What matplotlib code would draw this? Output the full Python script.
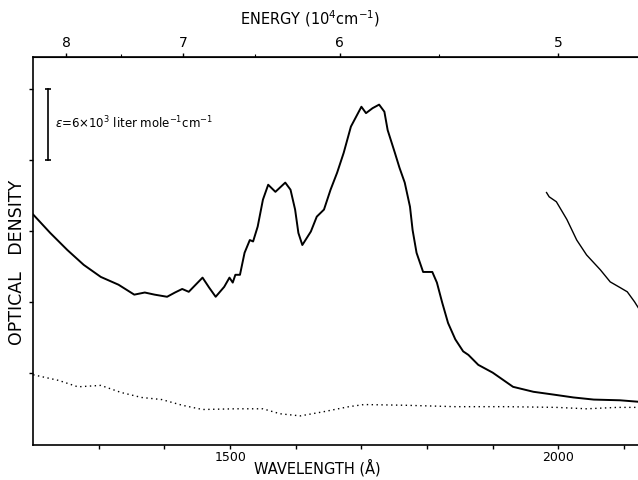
import numpy as np
import matplotlib
matplotlib.use("Agg")
import matplotlib.pyplot as plt

# main absorption curve (wavelength in A, optical density in tick units)
wl_main = [1200, 1226, 1252, 1277, 1303, 1330, 1354, 1370, 1385, 1404, 1416, 1427,
           1437, 1458, 1468, 1478, 1491, 1499, 1504, 1508, 1515, 1522, 1530, 1535,
           1542, 1550, 1558, 1569, 1584, 1592, 1599, 1604, 1610, 1623, 1632, 1643,
           1653, 1663, 1673, 1684, 1692, 1700, 1707, 1717, 1727, 1735, 1740, 1751,
           1758, 1766, 1774, 1778, 1784, 1794, 1808, 1815, 1823, 1832, 1843, 1855,
           1863, 1878, 1900, 1931, 1962, 1993, 2023, 2054, 2094, 2121, 2133]
od_main = [3.23, 2.97, 2.73, 2.52, 2.35, 2.24, 2.10, 2.13, 2.10, 2.07, 2.13, 2.18,
           2.14, 2.34, 2.20, 2.07, 2.21, 2.34, 2.27, 2.38, 2.38, 2.69, 2.87, 2.85,
           3.06, 3.44, 3.65, 3.55, 3.68, 3.58, 3.30, 2.97, 2.80, 2.99, 3.20, 3.30,
           3.58, 3.82, 4.10, 4.47, 4.61, 4.75, 4.66, 4.73, 4.78, 4.68, 4.42, 4.10,
           3.89, 3.68, 3.34, 3.01, 2.69, 2.42, 2.42, 2.27, 1.99, 1.70, 1.47, 1.30,
           1.25, 1.11, 1.00, 0.80, 0.73, 0.69, 0.65, 0.62, 0.61, 0.59, 0.56]

# second (higher concentration) curve at long wavelength
wl_right = [1982, 1986, 1997, 2013, 2028, 2043, 2064, 2079, 2094, 2105, 2116, 2131]
od_right = [3.54, 3.48, 3.41, 3.16, 2.87, 2.66, 2.45, 2.28, 2.20, 2.14, 2.00, 1.78]

# baseline (dotted)
wl_base = [1200, 1239, 1268, 1303, 1334, 1365, 1396, 1427, 1458, 1508, 1550, 1576,
           1607, 1643, 1681, 1704, 1766, 1843, 1920, 1997, 2043, 2090, 2133]
od_base = [0.97, 0.89, 0.80, 0.82, 0.72, 0.65, 0.62, 0.54, 0.48, 0.49, 0.49, 0.42,
           0.39, 0.45, 0.52, 0.55, 0.54, 0.52, 0.52, 0.51, 0.49, 0.51, 0.51]

wl_ticks = [1300, 1400, 1500, 1600, 1700, 1800, 1900, 2000, 2100]
wl_labels = ["", "", "1500", "", "", "", "", "2000", ""]
energy_ticks = [8, 7, 6, 5]
energy_minor = [7.5, 6.5, 5.5]

fig = plt.figure(figsize=(6.38, 4.8), dpi=100)
ax = fig.add_axes([0.052, 0.073, 0.96, 0.808])

ax.plot(wl_main, od_main, color="black", lw=1.4)
ax.plot(wl_right, od_right, color="black", lw=1.0)
ax.plot(wl_base, od_base, color="black", lw=1.0, linestyle=(0, (1, 2.5)))

# scale bar for epsilon
ax.plot([1222, 1222], [4.0, 5.0], color="black", lw=1.2, marker="_", ms=4, mew=1.2)
ax.text(1234, 4.52, r"$\epsilon$=6$\times$10$^3$ liter mole$^{-1}$cm$^{-1}$",
        fontsize=8.5, va="center", ha="left")

ax.set_xlim(1200, 2133)
ax.set_ylim(-0.02, 5.45)
ax.set_xticks(wl_ticks)
ax.set_xticklabels(wl_labels, fontsize=9)
ax.set_yticks([1, 2, 3, 4, 5])
ax.set_yticklabels([])
ax.tick_params(direction="out", length=3, width=1, pad=1.5)
ax.spines["right"].set_visible(False)
for s in ["left", "bottom", "top"]:
    ax.spines[s].set_linewidth(1.2)


def to_energy(x):
    x = np.asarray(x, dtype=float)
    with np.errstate(divide="ignore"):
        return 1e4 / x


sec = ax.secondary_xaxis("top", functions=(to_energy, to_energy))
sec.set_xticks(energy_ticks)
sec.set_xticklabels([str(e) for e in energy_ticks], fontsize=10)
sec.set_xticks(energy_minor, minor=True)
sec.tick_params(direction="out", length=3, width=1, pad=2)
sec.tick_params(which="minor", direction="out", length=2, width=0.8)

fig.text(0.486, 0.962, r"ENERGY (10$^4$cm$^{-1}$)", fontsize=10.5, ha="center", va="center")
fig.text(0.498, 0.025, "WAVELENGTH (Å)", fontsize=10.5, ha="center", va="center")
fig.text(0.027, 0.454, "OPTICAL   DENSITY", fontsize=12.5, ha="center",
         va="center", rotation=90)

fig.savefig("out.png", dpi=100)
